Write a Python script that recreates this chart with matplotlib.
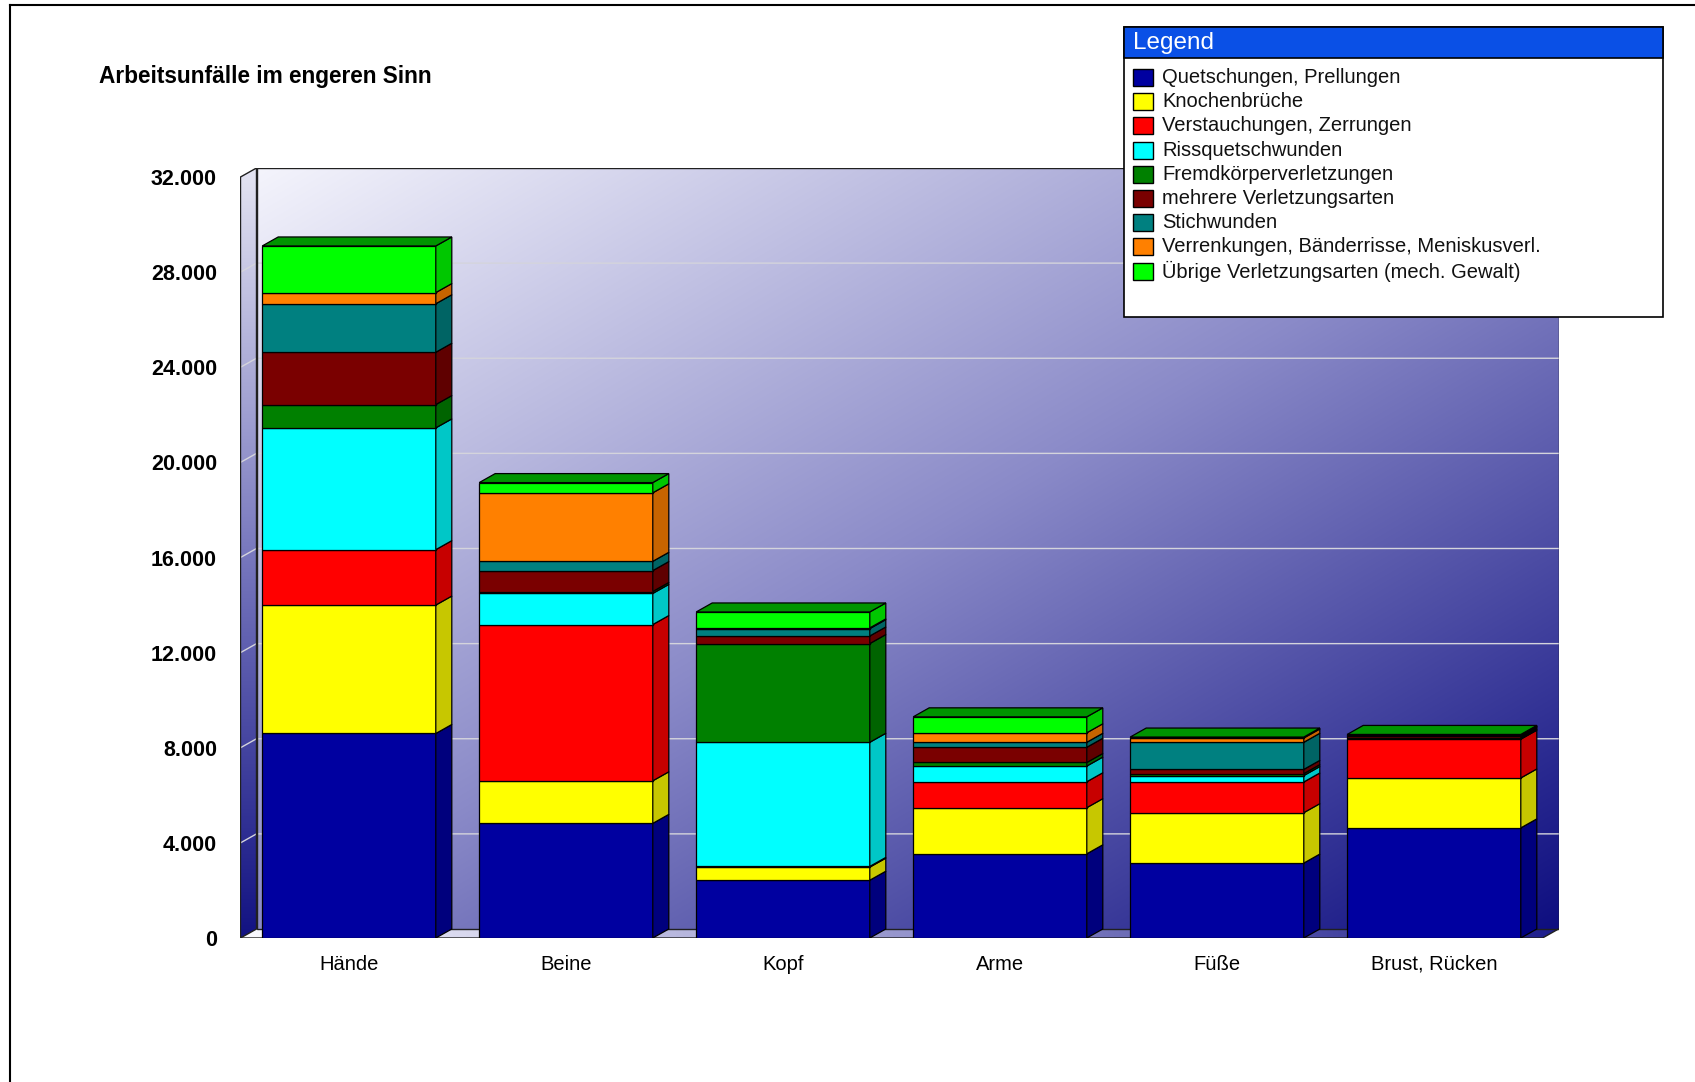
import numpy as np
import matplotlib
matplotlib.use("Agg")
import matplotlib.pyplot as plt
from matplotlib.patches import Polygon, Rectangle
from matplotlib.colors import to_rgb

# ---------------- data ----------------
categories = ["Hände", "Beine", "Kopf", "Arme", "Füße", "Brust, Rücken"]
series_names = [
    "Quetschungen, Prellungen",
    "Knochenbrüche",
    "Verstauchungen, Zerrungen",
    "Rissquetschwunden",
    "Fremdkörperverletzungen",
    "mehrere Verletzungsarten",
    "Stichwunden",
    "Verrenkungen, Bänderrisse, Meniskusverl.",
    "Übrige Verletzungsarten (mech. Gewalt)",
]
quetschungen = [8600, 4820, 2430, 3540, 3150, 4630]
knochenbrueche = [5400, 1790, 550, 1940, 2120, 2100]
verstauchungen = [2330, 6570, 30, 1090, 1290, 1630]
rissquetsch = [5120, 1310, 5220, 660, 270, 30]
fremdkoerper = [980, 80, 4150, 150, 80, 30]
mehrere = [2200, 880, 320, 640, 180, 60]
stichwunden = [2040, 390, 310, 210, 1140, 30]
verrenkungen = [470, 2880, 30, 400, 180, 20]
uebrige = [1960, 430, 670, 670, 40, 30]
series_values = [quetschungen, knochenbrueche, verstauchungen, rissquetsch,
                 fremdkoerper, mehrere, stichwunden, verrenkungen, uebrige]
series_colors = ["#0000A0", "#FFFF00", "#FF0000", "#00FFFF", "#008000",
                 "#7A0000", "#008080", "#FF8000", "#00FF00"]
yticks = [0, 4000, 8000, 12000, 16000, 20000, 24000, 28000, 32000]
ytick_labels = ["0", "4.000", "8.000", "12.000", "16.000", "20.000",
                "24.000", "28.000", "32.000"]
title = "Arbeitsunfälle im engeren Sinn"

FONT = ["Liberation Sans", "DejaVu Sans"]

# ---------------- layout ----------------
W, H = 1695, 1082
fig = plt.figure(figsize=(W / 100, H / 100), dpi=100)
fig.patch.set_facecolor("white")

ymax = 32000
px_per_cat = 217.0
front_left_px = 240.5
front_bottom_px = 938.0          # from top
front_top_px = 177.0             # value ymax
dpx, dpy = 16.0, 9.0             # 3D depth in pixels
px_per_val = (front_bottom_px - front_top_px) / ymax
ddx = dpx / px_per_cat
ddy = dpy / px_per_val

x_lo, x_hi = -0.5, len(categories) - 0.5
ax_left_px = front_left_px
ax_right_px = front_left_px + (x_hi - x_lo) * px_per_cat + dpx
ax_top_px = front_top_px - dpy
ax = fig.add_axes([ax_left_px / W, (H - front_bottom_px) / H,
                   (ax_right_px - ax_left_px) / W,
                   (front_bottom_px - ax_top_px) / H])
ax.set_xlim(x_lo, x_hi + ddx)
ax.set_ylim(0, ymax + ddy)
for s in ax.spines.values():
    s.set_visible(False)
ax.patch.set_visible(False)


def lerp_colors(t, stops):
    t = np.clip(t, 0, 1)
    pos = np.array([s[0] for s in stops])
    cols = np.array([s[1] for s in stops], dtype=float) / 255.0
    out = np.zeros(t.shape + (3,))
    for c in range(3):
        out[..., c] = np.interp(t, pos, cols[:, c])
    return out


# back wall gradient (diagonal)
gu, gv = np.meshgrid(np.linspace(0, 1, 400), np.linspace(0, 1, 300))
t = (gu + gv) / 2.0
wall = lerp_colors(t, [(0, (244, 244, 252)), (0.5, (138, 138, 200)), (1, (14, 14, 128))])
ax.imshow(wall, extent=[x_lo + ddx, x_hi + ddx, ddy, ymax + ddy],
          aspect="auto", zorder=0, interpolation="bilinear", origin="upper")
ax.add_patch(Rectangle((x_lo + ddx, ddy), x_hi - x_lo, ymax, fill=False,
                       edgecolor="#202020", lw=1.0, zorder=1))

# left wall gradient (vertical)
lw_arr = lerp_colors(np.linspace(0, 1, 300)[:, None] * np.ones((1, 10)),
                     [(0, (228, 228, 242)), (0.5, (120, 120, 190)), (1, (18, 18, 130))])
lwall = ax.imshow(lw_arr, extent=[x_lo, x_lo + ddx, 0, ymax + ddy],
                  aspect="auto", zorder=0.5, interpolation="bilinear", origin="upper")
lpoly = Polygon([(x_lo, 0), (x_lo + ddx, ddy), (x_lo + ddx, ymax + ddy), (x_lo, ymax)],
                closed=True, transform=ax.transData)
lwall.set_clip_path(lpoly)
ax.add_patch(Polygon([(x_lo, 0), (x_lo + ddx, ddy), (x_lo + ddx, ymax + ddy), (x_lo, ymax)],
                     closed=True, fill=False, edgecolor="#202020", lw=1.0, zorder=1))

# floor gradient (horizontal)
fl_arr = lerp_colors(np.ones((10, 1)) * np.linspace(0, 1, 400)[None, :],
                     [(0, (250, 250, 255)), (0.5, (150, 150, 205)), (1, (30, 30, 140))])
floor = ax.imshow(fl_arr, extent=[x_lo, x_hi + ddx, 0, ddy], aspect="auto",
                  zorder=0.5, interpolation="bilinear", origin="upper")
fpoly = Polygon([(x_lo, 0), (x_hi, 0), (x_hi + ddx, ddy), (x_lo + ddx, ddy)],
                closed=True, transform=ax.transData)
floor.set_clip_path(fpoly)
ax.plot([x_lo, x_hi, x_hi + ddx], [0, 0, ddy], color="#202020", lw=1.0, zorder=1)

# gridlines on back wall and left wall
for v in yticks[1:-1]:
    ax.plot([x_lo, x_lo + ddx, x_hi + ddx], [v, v + ddy, v + ddy],
            color="#d4d4dc", lw=1.0, zorder=0.8)

ax.set_xlim(x_lo, x_hi + ddx)
ax.set_ylim(0, ymax + ddy)


def shade(c, f):
    r, g, b = to_rgb(c)
    return (r * f, g * f, b * f)


# bars
width = 0.8
xs = np.arange(len(categories))
bottoms = np.zeros(len(categories))
for vals, col in zip(series_values, series_colors):
    vals = np.array(vals, dtype=float)
    ax.bar(xs, vals, width=width, bottom=bottoms, color=col,
           edgecolor="black", linewidth=0.9, zorder=3)
    for x, b, h in zip(xs, bottoms, vals):
        xr = x + width / 2
        side = [(xr, b), (xr + ddx, b + ddy), (xr + ddx, b + h + ddy), (xr, b + h)]
        ax.add_patch(Polygon(side, closed=True, facecolor=shade(col, 0.78),
                             edgecolor="black", lw=0.9, zorder=3))
    bottoms = bottoms + vals

top_col = series_colors[-1]
for x, top in zip(xs, bottoms):
    xl, xr = x - width / 2, x + width / 2
    topface = [(xl, top), (xl + ddx, top + ddy), (xr + ddx, top + ddy), (xr, top)]
    ax.add_patch(Polygon(topface, closed=True, facecolor=shade(top_col, 0.58),
                         edgecolor="black", lw=0.9, zorder=3))

# ticks
ax.set_yticks(yticks)
ax.set_yticklabels(ytick_labels, fontsize=15.5, fontweight="bold", family=FONT)
ax.tick_params(axis="y", length=0, pad=17)
ax.set_xticks(xs)
ax.set_xticklabels(categories, fontsize=14.5, family=FONT)
ax.tick_params(axis="x", length=0, pad=12)

# title
fig.text(99 / W, 1 - 77 / H, title, fontsize=16.3, fontweight="bold",
         family=FONT, va="center", ha="left")

# legend (manual)
def fx(px):
    return px / W


def fy(py):
    return 1 - py / H


lg_l, lg_r, lg_t, lg_b = 1124, 1663, 27, 317
fig.patches.append(Rectangle((fx(lg_l), fy(lg_b)), fx(lg_r - lg_l), (lg_b - lg_t) / H,
                             transform=fig.transFigure, facecolor="white",
                             edgecolor="black", lw=1.2, zorder=5))
fig.patches.append(Rectangle((fx(lg_l), fy(58)), fx(lg_r - lg_l), (58 - lg_t) / H,
                             transform=fig.transFigure, facecolor="#0A50E6",
                             edgecolor="black", lw=1.2, zorder=6))
fig.text(fx(1133), fy(43), "Legend", color="white", fontsize=17.5,
         family=FONT, va="center", ha="left", zorder=7)
row0, drow = 77.5, 24.2
for i, (name, col) in enumerate(zip(series_names, series_colors)):
    yc = row0 + i * drow
    fig.patches.append(Rectangle((fx(1133), fy(yc + 8.5)), fx(20), 17 / H,
                                 transform=fig.transFigure, facecolor=col,
                                 edgecolor="black", lw=1.0, zorder=7))
    fig.text(fx(1162), fy(yc), name, fontsize=14.5, color="#111111",
             family=FONT, va="center", ha="left", zorder=7)

# outer frame lines (left and top)
fig.add_artist(plt.Line2D([fx(10), fx(10)], [0, fy(5)], transform=fig.transFigure,
                          color="black", lw=1.5))
fig.add_artist(plt.Line2D([fx(10), 1], [fy(5), fy(5)], transform=fig.transFigure,
                          color="black", lw=1.5))

fig.savefig("out.png", dpi=100)
